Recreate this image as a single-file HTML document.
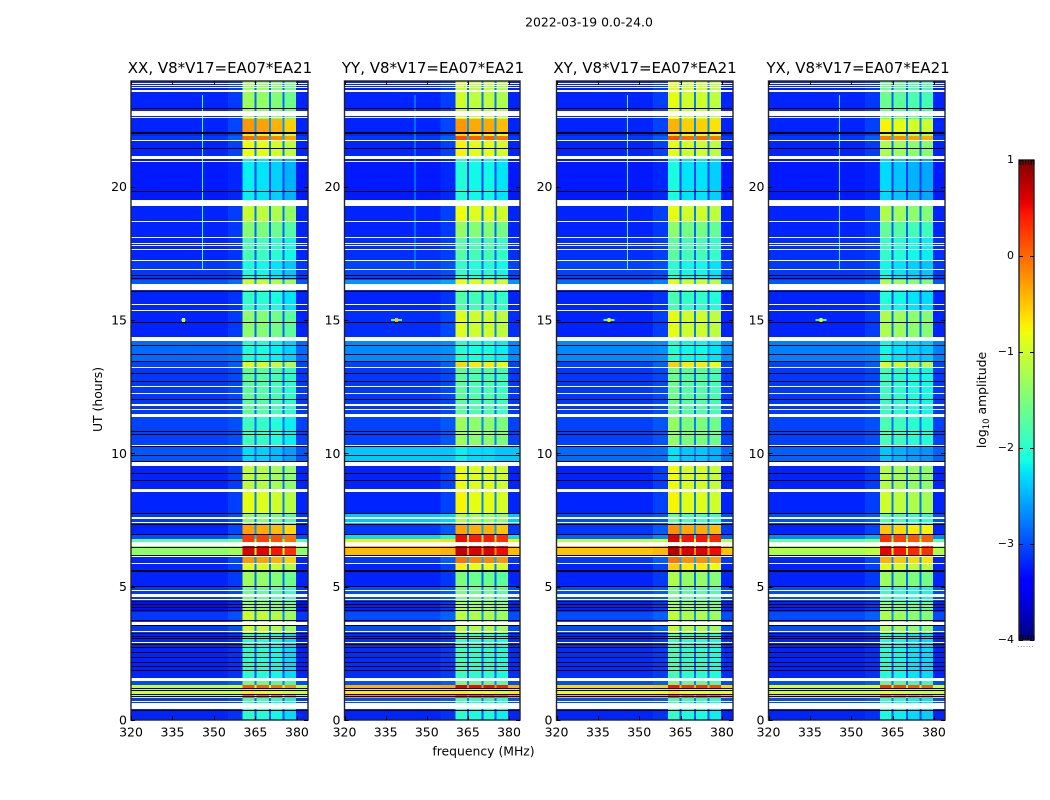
<!DOCTYPE html>
<html lang="en">
<head>
<meta charset="utf-8">
<title>2022-03-19 0.0-24.0</title>
<style>
html,body{margin:0;padding:0;background:#fff;}
svg{display:block;}
text{font-family:"DejaVu Sans","Liberation Sans",sans-serif;fill:#000;}
.tick-label{font-size:12.5px;}
.panel-title{font-size:15px;text-anchor:middle;}
.axis-title{font-size:12.4px;text-anchor:middle;}
</style>
</head>
<body>
<svg id="figure" xmlns="http://www.w3.org/2000/svg" width="1050" height="800" viewBox="0 0 1050 800">
  <rect x="0" y="0" width="1050" height="800" fill="#ffffff"/>
  <text x="589" y="26.5" text-anchor="middle" font-size="12.4">2022-03-19 0.0-24.0</text>
  <text class="panel-title" x="220" y="73">XX, V8*V17=EA07*EA21</text>
  <text class="panel-title" x="433" y="73">YY, V8*V17=EA07*EA21</text>
  <text class="panel-title" x="645" y="73">XY, V8*V17=EA07*EA21</text>
  <text class="panel-title" x="858" y="73">YX, V8*V17=EA07*EA21</text>
  <g id="panel-0"></g>
  <g id="panel-1"></g>
  <g id="panel-2"></g>
  <g id="panel-3"></g>
  <text class="axis-title" transform="translate(102,399.5) rotate(-90)">UT (hours)</text>
  <text class="axis-title" x="483.5" y="755.5">frequency (MHz)</text>
  <g id="colorbar"></g>
  <text class="axis-title" transform="translate(986,400) rotate(-90)">log<tspan font-size="8.5" dy="3">10</tspan><tspan dy="-3"> amplitude</tspan></text>
</svg>
<script>
// Axis tick values
const freqTicks = [320, 335, 350, 365, 380];
const utTicks = [0, 5, 10, 15, 20];
const colorTicks = [1, 0, -1, -2, -3, -4];
const colorTickLabels = ['1', '0', '\u22121', '\u22122', '\u22123', '\u22124'];

// Frequency layout in MHz
const subBandStarts = [360.4, 365.4, 370.6, 375.5];
const subBandEnds = [364.6, 369.9, 374.7, 379.6];
const shoulderStart = 355;

// Scan-number edges of each observing block (1 scan = 0.0375 h), newest first
const blockEdges = [639,601,587,584,579,561,517,499,482,460,440,433,410,381,359,353,305,275,256,230,206,195,185,181,176,164,156,149,133,119,108,87,40,35,31,25,22,14,0];

// log10 amplitude inside the bright sub-bands, per polarisation and block
const bandXX = [-1.4,-0.35,-0.8,-0.1,-0.9,-2.3,-1.15,-1.55,-1.95,-2.2,-1.1,-2.05,-1.5,-2.15,-1.0,-1.8,-2.0,-2.4,-1.2,-0.95,-1.5,-0.4,0.15,0.15,0.5,-0.35,-1.0,-1.4,-1.7,-1.4,-1.1,-2.1,-1.7,0,-0.8,0,-2.0,-2.1];
const bandYY = [-1.1,-0.35,-0.7,0.05,-0.85,-2.15,-0.9,-1.45,-1.85,-2.05,-0.9,-1.85,-1.0,-2.1,-0.7,-1.8,-1.4,-2.3,-0.9,-0.85,-1.3,-0.4,0.4,0.4,0.6,-0.15,-0.85,-1.6,-1.6,-1.3,-1.2,-2.0,-1.7,0.5,-0.8,0.2,-2.0,-2.1];
const bandXY = [-1.0,-0.55,-0.8,0,-1.0,-2.25,-1.0,-1.55,-1.85,-2.15,-1.0,-1.95,-1.0,-2.15,-0.7,-1.75,-1.5,-2.4,-0.95,-0.9,-1.8,-0.35,0.45,0.45,0.6,-0.2,-0.7,-1.35,-1.7,-1.4,-1.2,-2.0,-1.7,0.3,-0.8,0.1,-2.0,-2.1];
const bandYX = [-1.7,-0.85,-1.0,-0.2,-1.3,-2.4,-1.3,-1.75,-2.05,-2.25,-1.3,-2.15,-1.3,-2.25,-1.0,-2.0,-1.9,-2.5,-1.25,-1.1,-1.8,-0.6,0.2,0.2,0.45,-0.5,-1.0,-1.4,-2.0,-1.5,-1.3,-2.15,-1.8,0.2,-0.9,-0.1,-2.1,-2.2];

// log10 amplitude of the off-band background, per polarisation and block
const bgXX = [-3.2,-3.2,-3.2,-3.1,-3.2,-3.25,-3.2,-3.2,-3.2,-3.1,-2.95,-3.2,-3.2,-2.85,-3.05,-3.1,-3.05,-2.95,-3.2,-3.2,-3.1,-3.2,-3.0,-1.7,-1.4,-3.2,-3.2,-3.2,-3.1,-3.3,-3.1,-3.2,-3.0,-1.0,-1.0,-1.0,-3.1,-3.2];
const bgYY = [-3.2,-3.2,-3.2,-3.1,-3.2,-3.25,-3.2,-3.2,-3.15,-3.05,-2.65,-3.2,-3.15,-2.7,-3.05,-3.1,-3.05,-2.4,-3.2,-3.2,-2.4,-3.1,-2.3,-0.7,-0.45,-3.1,-3.2,-3.2,-3.0,-3.2,-3.0,-3.15,-3.0,-0.4,-0.7,-0.2,-3.0,-3.2];
const bgXY = [-3.2,-3.2,-3.2,-3.1,-3.2,-3.25,-3.2,-3.2,-3.15,-3.05,-2.85,-3.2,-3.2,-2.7,-3.05,-3.1,-3.05,-2.85,-3.2,-3.2,-3.0,-3.1,-2.9,-1.1,-0.5,-3.1,-3.2,-3.2,-3.0,-3.2,-3.0,-3.15,-3.0,-0.6,-0.8,-0.4,-3.0,-3.2];
const bgYX = [-3.2,-3.2,-3.2,-3.1,-3.2,-3.25,-3.2,-3.2,-3.15,-3.1,-2.95,-3.2,-3.2,-2.75,-3.05,-3.1,-3.05,-2.9,-3.2,-3.2,-3.0,-3.2,-2.7,-1.6,-1.2,-3.2,-3.2,-3.2,-3.0,-3.2,-3.0,-3.2,-3.0,-0.9,-1.0,-0.6,-3.0,-3.2];

// Per sub-band amplitude offsets
const tiltXX = [0.1, 0.05, -0.05, -0.2];
const tiltYY = [0.1, 0, 0, -0.1];
const tiltXY = [0.15, 0, 0, -0.1];
const tiltYX = [0.1, 0, -0.1, -0.15];

// Flagged scan ranges: blank (white) and zero-valued (black)
const blankScans = [[637,636],[635,634],[633,632],[630,628],[609,604],[603,602],[580,579],[564,561],[559,558],[520,514],[499,498],[483,482],[477,476],[475,474],[471,470],[460,459],[451,450],[436,430],[416,415],[410,409],[383,379],[353,352],[334,333],[327,326],[316,314],[311,310],[306,303],[275,274],[258,254],[231,228],[203,201],[198,197],[178,174],[164,163],[157,156],[130,129],[126,123],[121,120],[98,95],[89,88],[78,77],[42,39],[19,18],[17,11]];
const zeroScans = [[612,611],[588,586],[572,571],[529,528],[445,444],[442,441],[429,428],[398,397],[375,374],[366,365],[359,358],[347,346],[339,338],[321,320],[289,288],[286,285],[274,273],[265,264],[259,258],[247,246],[240,239],[207,206],[196,195],[186,185],[173,172],[165,164],[150,148],[134,133],[119,118],[116,115],[113,112],[110,109],[100,99],[95,94],[87,86],[84,83],[82,81],[76,75],[73,72],[68,67],[63,62],[58,57],[54,53],[50,49],[32,31],[30,29],[26,25],[24,23],[10,9]];

// Narrow-band interference: a steady line and a short burst
const rfiLineFreq = 345.6;
const rfiLineScans = [625, 450];
const rfiLineLevels = [-1.9, -2.5, -1.9, -2.1];
const burstFreq = 339;
const burstScan = 400;
const burstWings = [1.5, 4, 4, 4];
const burstWingLevels = [-2.0, -1.7, -1.7, -1.8];
const burstCoreLevels = [-1.0, -0.5, -0.7, -0.8];

// Jet colormap control points
const jetRed = [[0,0],[0.35,0],[0.66,1],[0.89,1],[1,0.5]];
const jetGreen = [[0,0],[0.125,0],[0.375,1],[0.64,1],[0.91,0],[1,0]];
const jetBlue = [[0,0.5],[0.11,1],[0.34,1],[0.65,0],[1,0]];

const bandSeries = [bandXX, bandYY, bandXY, bandYX];
const bgSeries = [bgXX, bgYY, bgXY, bgYX];
const tiltSeries = [tiltXX, tiltYY, tiltXY, tiltYX];

// Layout
const panelLefts = [131, 344.5, 556.5, 768.5];
const panelRights = [308, 520, 733, 945];
const plotTop = 81;
const plotBottom = 720;
const freqMin = 320, freqMax = 384;
const utPerScan = 0.0375, pxPerHour = 26.67;
const cbLeft = 1019, cbRight = 1034, cbTop = 160, cbBottom = 640;
const NS = 'http://www.w3.org/2000/svg';

function scaleX(p, f) {
  return panelLefts[p] + (f - freqMin) / (freqMax - freqMin) * (panelRights[p] - panelLefts[p]);
}
function scaleY(ut) {
  return plotBottom - ut * pxPerHour;
}
function scanY(scan) {
  return scaleY(scan * utPerScan);
}
function scaleColorY(v) {
  return cbBottom - (v + 4) / 5 * (cbBottom - cbTop);
}
function interp(stops, t) {
  for (let i = 1; i < stops.length; i++) {
    if (t <= stops[i][0]) {
      const a = stops[i - 1], b = stops[i];
      return a[1] + (b[1] - a[1]) * (t - a[0]) / (b[0] - a[0]);
    }
  }
  return stops[stops.length - 1][1];
}
function jet(v) {
  const t = Math.max(0, Math.min(1, (v + 4) / 5));
  const r = Math.round(255 * interp(jetRed, t));
  const g = Math.round(255 * interp(jetGreen, t));
  const b = Math.round(255 * interp(jetBlue, t));
  return 'rgb(' + r + ',' + g + ',' + b + ')';
}
function makeRect(parent, x0, x1, y0, y1, fill) {
  const r = document.createElementNS(NS, 'rect');
  r.setAttribute('x', x0.toFixed(2));
  r.setAttribute('y', y0.toFixed(2));
  r.setAttribute('width', Math.max(0, x1 - x0).toFixed(2));
  r.setAttribute('height', Math.max(0, y1 - y0).toFixed(2));
  r.setAttribute('fill', fill);
  r.setAttribute('shape-rendering', 'crispEdges');
  parent.appendChild(r);
  return r;
}
function makeLine(parent, x1, y1, x2, y2) {
  const l = document.createElementNS(NS, 'line');
  l.setAttribute('x1', x1);
  l.setAttribute('y1', y1);
  l.setAttribute('x2', x2);
  l.setAttribute('y2', y2);
  l.setAttribute('stroke', '#000');
  l.setAttribute('stroke-width', '1');
  parent.appendChild(l);
  return l;
}
function makeText(parent, x, y, anchor, str) {
  const t = document.createElementNS(NS, 'text');
  t.setAttribute('x', x);
  t.setAttribute('y', y);
  t.setAttribute('text-anchor', anchor);
  t.setAttribute('class', 'tick-label');
  t.textContent = str;
  parent.appendChild(t);
  return t;
}

function drawPanel(p) {
  const g = document.getElementById('panel-' + p);
  const left = panelLefts[p], right = panelRights[p];
  const band = bandSeries[p], bg = bgSeries[p], tilt = tiltSeries[p];
  const lastEnd = subBandEnds[subBandEnds.length - 1];

  for (let b = 0; b < band.length; b++) {
    const y0 = scanY(blockEdges[b]), y1 = scanY(blockEdges[b + 1]);
    const bgCell = makeRect(g, scaleX(p, freqMin), scaleX(p, shoulderStart), y0, y1, jet(bg[b]));
    
    
    const shoulderCell = makeRect(g, scaleX(p, shoulderStart), scaleX(p, subBandStarts[0]), y0, y1, jet(bg[b] + 0.06 * (band[b] - bg[b])));
    
    
    for (let s = 0; s < subBandStarts.length; s++) {
      const cell = makeRect(g, scaleX(p, subBandStarts[s]), scaleX(p, subBandEnds[s]), y0, y1, jet(band[b] + tilt[s]));
      
      
      if (s < subBandStarts.length - 1) {
        const gap = makeRect(g, scaleX(p, subBandEnds[s]), scaleX(p, subBandStarts[s + 1]), y0, y1, jet(bg[b] + 0.2 * (band[b] - bg[b])));
        
        
      }
    }
    const edgeCell = makeRect(g, scaleX(p, lastEnd), scaleX(p, freqMax), y0, y1, jet(bg[b]));
    
    
  }

  const rfi = makeRect(g, scaleX(p, rfiLineFreq), scaleX(p, rfiLineFreq) + 1, scanY(rfiLineScans[0]), scanY(rfiLineScans[1]), jet(rfiLineLevels[p]));
  
  

  const wing = makeRect(g, scaleX(p, burstFreq - burstWings[p] / 2), scaleX(p, burstFreq + burstWings[p] / 2), scanY(burstScan + 1), scanY(burstScan - 1), jet(burstWingLevels[p]));
  
  
  const core = makeRect(g, scaleX(p, burstFreq - 0.5), scaleX(p, burstFreq + 0.5), scanY(burstScan + 2), scanY(burstScan - 2), jet(burstCoreLevels[p]));
  
  

  blankScans.forEach(function (range) {
    const flag = makeRect(g, left, right, scanY(range[0]), scanY(range[1]), '#ffffff');
    
    
  });
  zeroScans.forEach(function (range) {
    const flag = makeRect(g, left, right, scanY(range[0]), scanY(range[1]), '#000000');
    
    
  });

  const frame = makeRect(g, left, right, plotTop, plotBottom, 'none');
  frame.setAttribute('stroke', '#222');
  frame.setAttribute('stroke-width', '1.4');
  frame.removeAttribute('shape-rendering');
  
  

  freqTicks.forEach(function (f) {
    const x = Math.round(scaleX(p, f)) + 0.5;
    const tb = makeLine(g, x, plotBottom, x, plotBottom - 4);
    
    
    const tt = makeLine(g, x, plotTop, x, plotTop + 4);
    
    
    const lab = makeText(g, scaleX(p, f), 736.5, 'middle', String(f));
    
    
  });
  utTicks.forEach(function (u) {
    const y = Math.round(scaleY(u)) + 0.5;
    const tl = makeLine(g, left, y, left + 4, y);
    
    
    const tr = makeLine(g, right, y, right - 4, y);
    
    
    const lab = makeText(g, left - 4, scaleY(u) + 4.5, 'end', String(u));
    
    
  });
}

function drawColorbar() {
  const g = document.getElementById('colorbar');
  for (let y = cbTop; y < cbBottom; y += 2) {
    const v = 1 - (y + 1 - cbTop) / (cbBottom - cbTop) * 5;
    const seg = makeRect(g, cbLeft, cbRight, y, y + 2, jet(v));
    
    
  }
  const frame = makeRect(g, cbLeft, cbRight, cbTop, cbBottom, 'none');
  frame.setAttribute('stroke', '#222');
  frame.setAttribute('stroke-width', '1.4');
  frame.removeAttribute('shape-rendering');
  
  
  colorTicks.forEach(function (v, i) {
    const y = Math.round(scaleColorY(v)) + 0.5;
    const tl = makeLine(g, cbLeft, y, cbLeft + 4, y);
    
    
    const tr = makeLine(g, cbRight, y, cbRight - 4, y);
    
    
    const lab = makeText(g, cbLeft - 5, scaleColorY(v) + 3, 'end', colorTickLabels[i]);
    lab.style.fontSize = '11px';
    
    
  });
  for (let k = 0; k < 6; k++) {
    const x = cbLeft + 1 + k * 2.8;
    const top = makeLine(g, x, cbTop, x, cbTop + 5);
    
    
    const bottom = makeLine(g, x, cbBottom, x, cbBottom - 5);
    
    
    const dot = makeRect(g, x - 2, x - 1, 646, 647, '#999999');
    
    
  }
}

for (let p = 0; p < 4; p++) {
  drawPanel(p);
}
drawColorbar();
</script>
</body>
</html>
